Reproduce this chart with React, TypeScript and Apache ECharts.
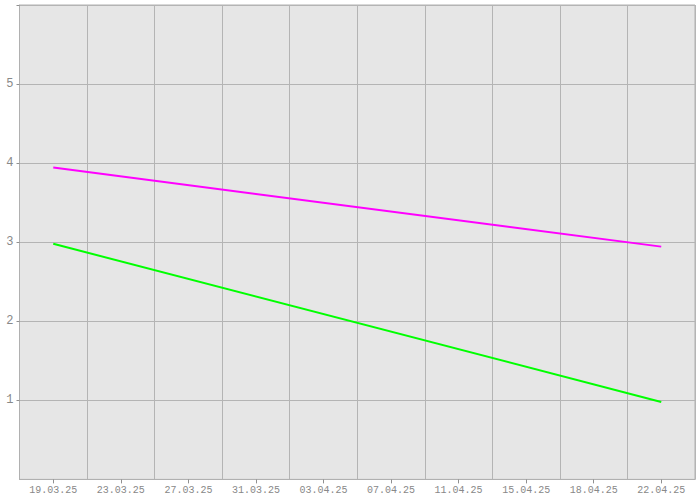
import React, { useEffect, useRef } from "react";
import * as echarts from "echarts";

const categories = [
  "19.03.25", "23.03.25", "27.03.25", "31.03.25", "03.04.25",
  "07.04.25", "11.04.25", "15.04.25", "18.04.25", "22.04.25",
];
const magentaValues = [3.944, null, null, null, null, null, null, null, null, 2.944];
const greenValues = [2.98, null, null, null, null, null, null, null, null, 0.98];
const yTicks = [1, 2, 3, 4, 5, 6];

export default function App() {
  const ref = useRef<HTMLDivElement>(null);
  useEffect(() => {
    if (!ref.current) return;
    const chart = echarts.init(ref.current, undefined, { renderer: "svg" });
    const font = "'Liberation Mono', 'DejaVu Sans Mono', monospace";
    chart.setOption({
      animation: false,
      backgroundColor: "#ffffff",
      grid: {
        left: 19.5,
        right: 5,
        top: 5,
        bottom: 20.6,
        show: true,
        backgroundColor: "#e6e6e6",
        borderColor: "#b0b0b0",
        borderWidth: 1,
      },
      xAxis: {
        type: "category",
        data: categories,
        boundaryGap: true,
        axisLine: { show: true, lineStyle: { color: "#b0b0b0", width: 1 } },
        axisTick: { show: true, alignWithLabel: true, length: 4, lineStyle: { color: "#909090" } },
        axisLabel: {
          color: "#888888",
          fontFamily: font,
          fontSize: 10,
          margin: 6,
          interval: 0,
        },
        splitLine: { show: true, lineStyle: { color: "#b4b4b4", width: 1 } },
      },
      yAxis: {
        type: "value",
        min: 0,
        max: 6,
        interval: 1,
        axisLine: { show: true, lineStyle: { color: "#b0b0b0", width: 1 } },
        axisTick: { show: true, length: 3, lineStyle: { color: "#909090" }, customValues: yTicks },
        axisLabel: {
          color: "#888888",
          fontFamily: font,
          fontSize: 12,
          margin: 6,
          formatter: (v: number) => (v >= 1 && v <= 5 ? String(v) : ""),
        },
        splitLine: { show: true, lineStyle: { color: "#b4b4b4", width: 1 } },
      },
      series: [
        {
          type: "line",
          data: magentaValues,
          connectNulls: true,
          showSymbol: false,
          symbol: "none",
          lineStyle: { color: "#ff00ff", width: 2 },
        },
        {
          type: "line",
          data: greenValues,
          connectNulls: true,
          showSymbol: false,
          symbol: "none",
          lineStyle: { color: "#00ff00", width: 2 },
        },
      ],
    });
    return () => chart.dispose();
  }, []);
  return (
    <div
      ref={ref}
      style={{ position: "fixed", left: 0, top: 0, width: 700, height: 500 }}
    />
  );
}
